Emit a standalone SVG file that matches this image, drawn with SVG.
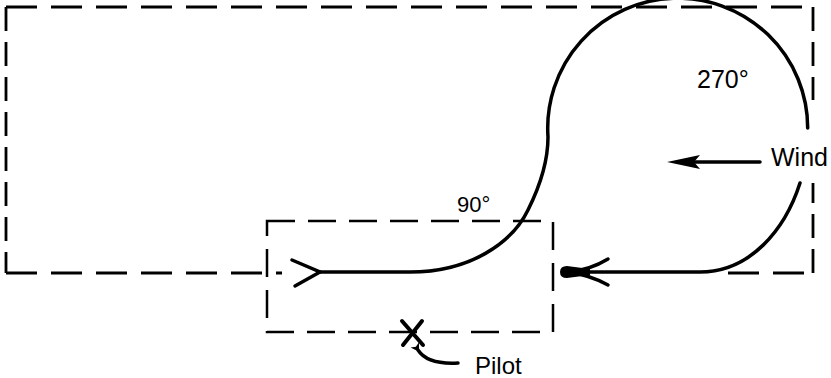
<svg xmlns="http://www.w3.org/2000/svg" width="831" height="378" viewBox="0 0 831 378">
<style>
.dash{fill:none;stroke:#000;stroke-width:2.8;stroke-dasharray:31 14}
.vdash{fill:none;stroke:#000;stroke-width:2.8;stroke-dasharray:24 11}
.dash2{fill:none;stroke:#000;stroke-width:2.5;stroke-dasharray:28 13}
.flight{fill:none;stroke:#000;stroke-width:3.5;stroke-linecap:round}
.lbl{font-family:"Liberation Sans",Arial,sans-serif;fill:#000}
</style>
<defs>
<marker id="ah" markerWidth="10" markerHeight="10" refX="2" refY="5" orient="auto" markerUnits="userSpaceOnUse">
<path d="M0,5 L8,0 L6,5 L8,10 Z" fill="#000"/>
</marker>
</defs>
<rect width="831" height="378" fill="#fff"/>
<g id="pattern-frame">
<path class="dash" d="M6 7 H813"/>
<path class="vdash" d="M6 7 V273"/>
<path class="dash" d="M6 273 H282"/>
<path class="vdash" d="M813 7 V100"/>
<path class="dash" d="M728 273 H813"/>
<path class="vdash" d="M813 273 V183"/>
</g>
<g id="zone">
<path class="dash2" d="M267 221 H553 V332 H267 Z"/>
</g>
<g id="connectors">
<path class="flight" d="M320 272 L410 272 C470 272 512 243 528 210 C538 190 548 165 548 137 A130 130 0 1 1 807.7 128"/>
<path class="flight" d="M292 260 L320 272 L295 286" stroke-width="4.5"/>
<path class="flight" d="M800 183 C785 230 750 272 700 272 L575 272" stroke-width="5"/>
<path class="flight" d="M608 259 Q590 270 568 272 Q590 275 608 285" stroke-width="4"/>
<path d="M560 272 Q560 266 567 266 L590 269 L590 275 L567 278 Q560 278 560 272 Z" fill="#000"/>
<path class="flight" d="M760 162 H695" stroke-width="2.5"/>
<path d="M667 162 L700 155 L694 162 L700 169 Z" fill="#000"/>
<path class="flight" d="M458 363 C440 364 425 361 418 350" stroke-width="3" marker-end="url(#ah)"/>
</g>
<g id="pilot">
<path d="M402 321 L423 345 M422 321 L403 345" stroke="#000" stroke-width="4" stroke-linecap="round"/>
<text class="lbl" x="475" y="374" font-size="24">Pilot</text>
</g>
<g id="labels">
<text class="lbl" x="697" y="88" font-size="25">270°</text>
<text class="lbl" x="457" y="212" font-size="22">90°</text>
<text class="lbl" x="771" y="166" font-size="25">Wind</text>
</g>
</svg>
